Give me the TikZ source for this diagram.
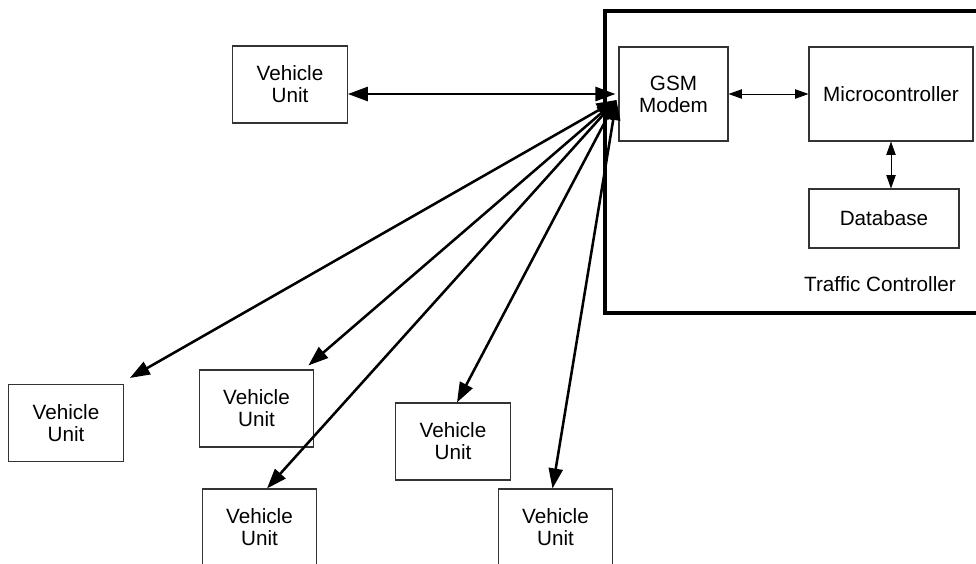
\documentclass[tikz,border=0pt]{standalone}
\usepackage{fontspec}
\setmainfont{Liberation Sans}
\usetikzlibrary{arrows.meta}
\begin{document}
\begin{tikzpicture}[x=0.75pt,y=-0.75pt,
  unitbox/.style={draw=black!80,line width=0.8pt,minimum width=86pt,minimum height=57.75pt,inner sep=0pt,align=center,font=\fontsize{15.5}{16.5}\selectfont},
  blockbox/.style={draw=black!80,line width=0.8pt,inner sep=0pt,align=center,font=\fontsize{15.5}{16.5}\selectfont},
  radio/.style={line width=1.9pt,{Triangle[length=15pt,width=10.5pt]}-{Triangle[length=15pt,width=10.5pt]}},
  link/.style={line width=0.7pt,{Triangle[length=10pt,width=7pt]}-{Triangle[length=10pt,width=7pt]}}
]
\clip (0,0) rectangle (976,564);
\fill[white] (0,0) rectangle (976,564);
% Traffic controller frame
\draw[line width=3.6pt] (980,11) -- (605,11) -- (605,313) -- (980,313);
\node[font=\fontsize{15.5}{16.5}\selectfont] (tc) at (880,284) {Traffic Controller};
% internal blocks
\node[blockbox,minimum width=81.75pt,minimum height=70.5pt] (gsm) at (673.5,94) {GSM\\Modem};
\node[blockbox,minimum width=123pt,minimum height=70.5pt] (mc) at (891,94) {Microcontroller};
\node[blockbox,minimum width=112.5pt,minimum height=44.25pt] (db) at (884,218.5) {Database};
\draw[link] (gsm) -- (mc);
\draw[link] (mc.south) -- (mc.south |- db.north);
% vehicle units
\node[unitbox] (vut) at (290,84.5) {Vehicle\\Unit};
\node[unitbox] (vu1) at (66,423) {Vehicle\\Unit};
\node[unitbox] (vu2) at (256.5,408.5) {Vehicle\\Unit};
\node[unitbox] (vu3) at (259.5,527.5) {Vehicle\\Unit};
\node[unitbox] (vu4) at (453,441.5) {Vehicle\\Unit};
\node[unitbox] (vu5) at (555.5,527.5) {Vehicle\\Unit};
% hub points at the modem
\coordinate (hubt) at ([shift={(-3,0)}]gsm.west);
\coordinate (hub) at ([shift={(-2,6)}]gsm.west);
\draw[radio] ([shift={(0,9.5)}]vut.east) -- (hubt);
\draw[radio] ([shift={(6,-6)}]vu1.north east) -- (hub);
\draw[radio] ([shift={(-6,-4)}]vu2.north east) -- (hub);
\draw[radio] ([shift={(7.5,0)}]vu3.north) -- (hub);
\draw[radio] ([shift={(4,0)}]vu4.north) -- (hub);
\draw[radio] ([shift={(-3,0)}]vu5.north) -- (hub);
\end{tikzpicture}
\end{document}
